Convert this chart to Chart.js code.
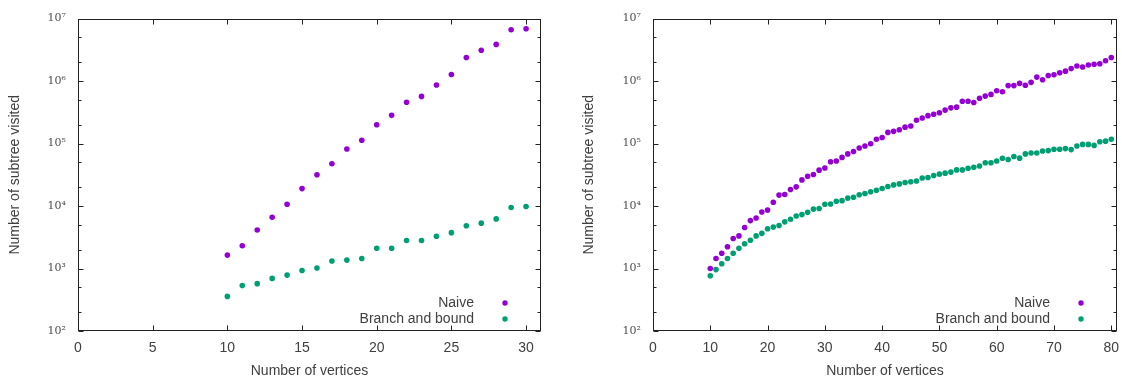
<!DOCTYPE html>
<html>
<head>
<meta charset="utf-8">
<script src="https://cdn.jsdelivr.net/npm/chart.js@4.4.1/dist/chart.umd.min.js"></script>
<style>
  html, body { margin: 0; padding: 0; background: #fff; }
  #wrap { position: relative; width: 1122px; height: 380px; }
  canvas { position: absolute; top: 0; }
</style>
</head>
<body>
<div id="wrap">
  <canvas id="smallChart" width="561" height="380" style="left:0"></canvas>
  <canvas id="largeChart" width="561" height="380" style="left:561px"></canvas>
</div>
<script>
// left plot: 10..30 vertices
const smallVertices = [10, 11, 12, 13, 14, 15, 16, 17, 18, 19, 20, 21, 22, 23, 24, 25, 26, 27, 28, 29, 30];
const smallNaive = [1640, 2320, 4130, 6610, 10700, 19000, 31600, 47600, 81900, 113000, 200000,
  283000, 458000, 569000, 867000, 1276000, 2388000, 3112000, 3863000, 6640000, 6880000];
const smallBranch = [358, 533, 573, 695, 784, 929, 1021, 1316, 1365, 1449, 2105,
  2105, 2810, 2810, 3288, 3750, 4830, 5320, 6220, 9480, 9840];

// right plot: 10..80 vertices
const largeVertices = [10, 11, 12, 13, 14, 15, 16, 17, 18, 19, 20, 21, 22, 23, 24, 25, 26, 27, 28, 29,
  30, 31, 32, 33, 34, 35, 36, 37, 38, 39, 40, 41, 42, 43, 44, 45, 46, 47, 48, 49,
  50, 51, 52, 53, 54, 55, 56, 57, 58, 59, 60, 61, 62, 63, 64, 65, 66, 67, 68, 69,
  70, 71, 72, 73, 74, 75, 76, 77, 78, 79, 80];
const largeNaive = [1000, 1450, 1755, 2234, 3020, 3327, 4540, 5850, 6450, 8010,
  8610, 11500, 14960, 15300, 18400, 20300, 26200, 30000, 32000, 37500,
  40700, 51200, 52500, 60000, 68300, 74500, 84800, 91200, 99400, 117500,
  124800, 151000, 156700, 166600, 183000, 190500, 236600, 257000, 279500, 293800,
  311400, 343400, 373000, 382700, 475500, 475500, 453600, 529700, 575400, 612000,
  699500, 674000, 847000, 847000, 920000, 857000, 955000, 1159000, 1052000, 1230000,
  1262000, 1355000, 1442000, 1585000, 1746000, 1683000, 1811000, 1857000, 1897000, 2115000,
  2388000];
const largeBranch = [765, 961, 1193, 1450, 1755, 2104, 2490, 2838, 3327, 3656,
  4335, 4600, 4885, 5585, 6150, 6935, 7300, 7930, 8930, 9150,
  10700, 10800, 11900, 12200, 13400, 13800, 15200, 15900, 16900, 17900,
  19100, 20500, 21800, 22600, 23800, 24500, 25200, 28100, 28700, 30900,
  32400, 33600, 34900, 37900, 37900, 40300, 41800, 43800, 49300, 49300,
  52500, 58100, 55700, 62100, 58400, 68300, 70800, 70800, 76100, 77100,
  80900, 80900, 83000, 80000, 91200, 97000, 97000, 93500, 107000, 109200,
  117500];

const smallXTicks = [0, 5, 10, 15, 20, 25, 30];
const largeXTicks = [0, 10, 20, 30, 40, 50, 60, 70, 80];
const yTicks = [1e2, 1e3, 1e4, 1e5, 1e6, 1e7];
const yMinorSteps = [2, 5];

const seriesNames = ["Naive", "Branch and bound"];
const seriesColors = ["#9400d3", "#009e73"];

const SANS = "'Liberation Sans', Arial, sans-serif";
const textColor = "#404040";
const supDigits = { 2: "\u00b2", 3: "\u00b3", 4: "\u2074", 5: "\u2075", 6: "\u2076", 7: "\u2077" };

// box, inward ticks on all four sides, and the key in the lower right
const framePlugin = {
  id: "frame",
  afterDatasetsDraw(chart) {
    const { ctx, chartArea: a, scales } = chart;
    const L = Math.round(a.left) + 0.5, R = Math.round(a.right) - 0.5;
    const T = Math.round(a.top) + 0.5, B = Math.round(a.bottom) - 0.5;
    ctx.save();
    ctx.strokeStyle = "#222";
    ctx.lineWidth = 1;
    ctx.beginPath();
    scales.x.ticks.forEach((t) => {
      const px = Math.round(scales.x.getPixelForValue(t.value)) + 0.5;
      ctx.moveTo(px, B); ctx.lineTo(px, B - 5);
      ctx.moveTo(px, T); ctx.lineTo(px, T + 5);
    });
    yTicks.forEach((v, i) => {
      const py = Math.round(scales.y.getPixelForValue(v)) + 0.5;
      ctx.moveTo(L, py); ctx.lineTo(L + 5, py);
      ctx.moveTo(R, py); ctx.lineTo(R - 5, py);
      if (i === yTicks.length - 1) return;
      yMinorSteps.forEach((m) => {
        const my = Math.round(scales.y.getPixelForValue(v * m)) + 0.5;
        ctx.moveTo(L, my); ctx.lineTo(L + 3, my);
        ctx.moveTo(R, my); ctx.lineTo(R - 3, my);
      });
    });
    ctx.stroke();
    ctx.strokeRect(L, T, R - L, B - T);

    ctx.font = "14px " + SANS;
    ctx.textAlign = "right";
    ctx.textBaseline = "middle";
    chart.data.datasets.forEach((ds, i) => {
      const y = 303 + i * 16;
      ctx.fillStyle = textColor;
      ctx.fillText(ds.label, a.right - 67, y);
      ctx.fillStyle = ds.backgroundColor;
      ctx.beginPath();
      ctx.arc(a.right - 36, y, 2.7, 0, Math.PI * 2);
      ctx.fill();
    });
    ctx.restore();
  }
};

const makeChart = (id, xs, naive, branch, xTicks, xMax, yWidth, yTitlePad, padRight) => {
  const series = [naive, branch];
  return new Chart(document.getElementById(id), {
    type: "scatter",
    data: {
      datasets: series.map((vals, i) => ({
        label: seriesNames[i],
        data: vals.map((v, k) => ({ x: xs[k], y: v })),
        backgroundColor: seriesColors[i],
        borderColor: seriesColors[i],
        borderWidth: 0,
        pointRadius: 2.8,
        pointHoverRadius: 2.8,
      })),
    },
    options: {
      responsive: false,
      animation: false,
      events: [],
      layout: { padding: { top: 13, right: padRight, left: 0, bottom: 0 } },
      plugins: { legend: { display: false }, tooltip: { enabled: false } },
      scales: {
        x: {
          type: "linear",
          min: 0,
          max: xMax,
          afterBuildTicks: (scale) => { scale.ticks = xTicks.map((v) => ({ value: v })); },
          afterFit: (scale) => {
            scale.height = 49;
            scale.paddingLeft = 0;
            scale.paddingRight = 0;
          },
          grid: { display: false, drawTicks: false },
          border: { display: false },
          ticks: { padding: 9, color: textColor, font: { family: SANS, size: 14 }, maxRotation: 0 },
          title: {
            display: true,
            text: "Number of vertices",
            color: textColor,
            font: { family: SANS, size: 14 },
            padding: { top: 0, bottom: 0 },
          },
        },
        y: {
          type: "logarithmic",
          min: 100,
          max: 1e7,
          afterBuildTicks: (scale) => { scale.ticks = yTicks.map((v) => ({ value: v })); },
          afterFit: (scale) => { scale.width = yWidth; },
          grid: { display: false, drawTicks: false },
          border: { display: false },
          ticks: {
            padding: 12,
            color: "#505050",
            font: { family: "'DejaVu Serif', serif", size: 11 },
            callback: (v) => "10" + supDigits[Math.round(Math.log10(v))],
          },
          title: {
            display: true,
            text: "Number of subtree visited",
            color: textColor,
            font: { family: SANS, size: 14 },
            padding: { top: yTitlePad, bottom: 0 },
          },
        },
      },
    },
    plugins: [framePlugin],
  });
};

makeChart("smallChart", smallVertices, smallNaive, smallBranch, smallXTicks, 31, 78, 7, 20);
makeChart("largeChart", largeVertices, largeNaive, largeBranch, largeXTicks, 81, 92, 20, 5);
</script>
</body>
</html>
